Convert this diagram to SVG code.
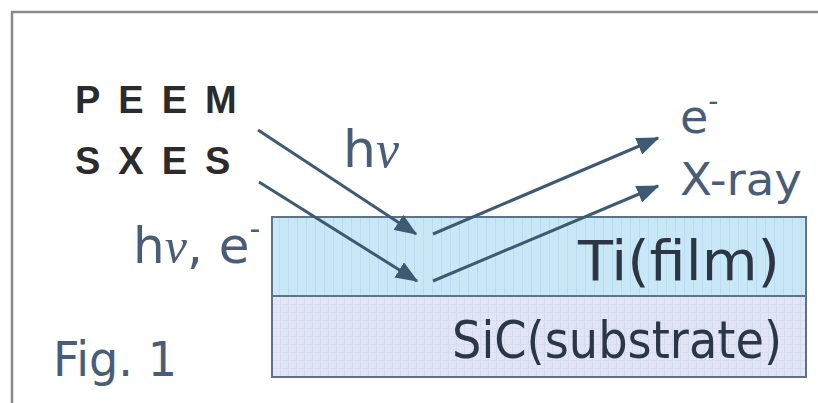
<svg xmlns="http://www.w3.org/2000/svg" width="818" height="403" viewBox="0 0 818 403">
  <defs>
    <style>
      .lbl { font-family: "DejaVu Sans", Verdana, sans-serif; fill: #4a5d78; }
      .layer { font-family: "DejaVu Sans", Verdana, sans-serif; fill: #2c3646; }
      .tech { font-family: "Liberation Sans", Arial, sans-serif; font-weight: bold; fill: #2b2b2b; letter-spacing: 18px; }
      .nu { font-family: "Liberation Serif", "Times New Roman", serif; font-style: italic; }
      .ray { stroke: #3e5a72; stroke-width: 3; fill: none; }
      .box { stroke: #5e7389; stroke-width: 2; }
    </style>
    <marker id="ah" markerWidth="7.5" markerHeight="6" refX="7" refY="3" orient="auto" markerUnits="strokeWidth">
      <path d="M0,0 L7.5,3 L0,6 Z" fill="#3e5a72"/>
    </marker>
    <pattern id="stripes" width="9" height="10" patternUnits="userSpaceOnUse">
      <rect width="9" height="10" fill="#c8e8f8"/>
      <rect x="0" width="1" height="10" fill="#bbdcef"/>
    </pattern>
    <pattern id="grid" width="8" height="8" patternUnits="userSpaceOnUse">
      <rect width="8" height="8" fill="#e1e5f5"/>
      <rect x="0" width="1" height="8" fill="#d5dbef"/>
      <rect y="0" width="8" height="1" fill="#d8ddf0"/>
    </pattern>
  </defs>

  <rect width="818" height="403" fill="#ffffff"/>

  <!-- outer frame -->
  <path d="M12,403 L12,12 L818,12" fill="none" stroke="#8a8a8a" stroke-width="2.5"/>

  <g id="ti-film">
    <rect class="box" x="272" y="217" width="534" height="79" fill="url(#stripes)"/>
    <text class="layer" x="578" y="280" font-size="55" textLength="202" lengthAdjust="spacingAndGlyphs">Ti(film)</text>
  </g>

  <g id="sic-substrate">
    <rect class="box" x="272" y="296" width="534" height="81" fill="url(#grid)"/>
    <text class="layer" x="452" y="358" font-size="51" textLength="330" lengthAdjust="spacingAndGlyphs">SiC(substrate)</text>
  </g>

  <g id="peem">
    <text class="tech" x="75" y="113" font-size="38">PEEM</text>
  </g>
  <g id="sxes">
    <text class="tech" x="75" y="174" font-size="38">SXES</text>
  </g>

  <g id="label-hv">
    <text class="lbl" x="343" y="167" font-size="52">h<tspan class="nu">ν</tspan></text>
  </g>

  <g id="label-hv-e">
    <text class="lbl" x="133" y="263" font-size="50">h<tspan class="nu">ν</tspan>, e<tspan font-size="30" dy="-24">-</tspan></text>
  </g>

  <g id="label-e">
    <text class="lbl" x="680" y="133" font-size="46">e<tspan font-size="28" dy="-22">-</tspan></text>
  </g>

  <g id="label-xray">
    <text class="lbl" x="680" y="195" font-size="45" textLength="122" lengthAdjust="spacingAndGlyphs">X-ray</text>
  </g>

  <g id="fig-label">
    <text class="lbl" x="53" y="376" font-size="48" textLength="124" lengthAdjust="spacingAndGlyphs">Fig. 1</text>
  </g>

  <g id="connectors">
    <line class="ray" x1="258" y1="130" x2="416" y2="234" marker-end="url(#ah)"/>
    <line class="ray" x1="259" y1="182" x2="417" y2="281" marker-end="url(#ah)"/>
    <line class="ray" x1="433" y1="234" x2="658" y2="138" marker-end="url(#ah)"/>
    <line class="ray" x1="433" y1="281" x2="658" y2="186" marker-end="url(#ah)"/>
  </g>
</svg>
